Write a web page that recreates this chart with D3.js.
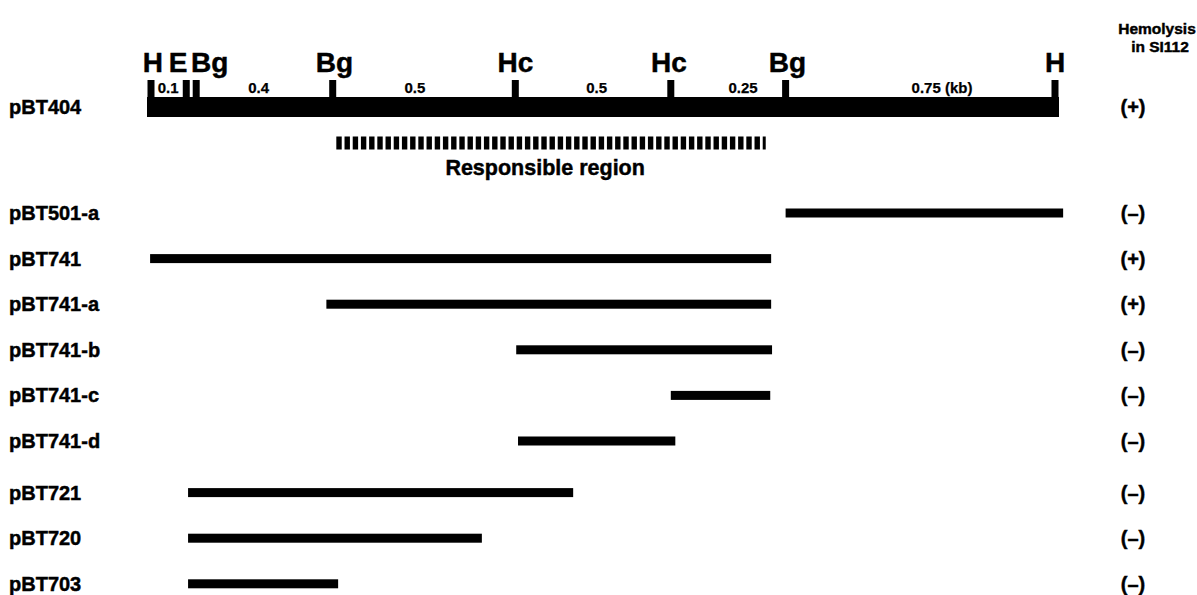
<!DOCTYPE html>
<html><head><meta charset="utf-8">
<script src="https://cdn.jsdelivr.net/npm/d3@7"></script>
<style>
html,body{margin:0;padding:0;background:#fff;}
svg text{font-family:"Liberation Sans",Arial,Helvetica,sans-serif;font-weight:bold;fill:#000;stroke:#000;stroke-width:0.45px;}
</style></head>
<body>
<svg id="chart" width="1197" height="595"></svg>
<script>
// Restriction map of pBT404 (positions in map units, 0-100 along the insert)
const siteNames = ["H", "E", "Bg", "Bg", "Hc", "Hc", "Bg", "H"];
const sitePos = [0, 3.9, 5.0, 20.1, 40.3, 57.5, 70.2, 100];
const siteLabelPos = [0.2, 3.0, 6.5, 20.3, 40.3, 57.3, 70.4, 100];
const segmentLabels = ["0.1", "0.4", "0.5", "0.5", "0.25", "0.75 (kb)"];
const segmentLabelPos = [1.9, 11.9, 29.2, 49.3, 65.5, 87.5];
const mapName = "pBT404";
const mapHemolysis = "(+)";
const responsibleStart = 20.5;
const responsibleEnd = 68.0;
const responsibleLabel = "Responsible region";
const responsibleLabelPos = 43.6;

// Subclones
const clones = ["pBT501-a", "pBT741", "pBT741-a", "pBT741-b", "pBT741-c", "pBT741-d", "pBT721", "pBT720", "pBT703"];
const cloneGroup = [0, 0, 0, 0, 0, 0, 1, 1, 1];
const cloneStart = [70.2, -0.1, 19.4, 40.4, 57.5, 40.6, 4.1, 4.1, 4.1];
const cloneEnd = [100.9, 68.6, 68.6, 68.7, 68.5, 58.0, 46.7, 36.6, 20.7];
const cloneHemolysis = ["(\u2013)", "(+)", "(+)", "(\u2013)", "(\u2013)", "(\u2013)", "(\u2013)", "(\u2013)", "(\u2013)"];
const headerLines = ["Hemolysis", "in SI112"];

const svg = d3.select("#chart");
const x = d3.scaleLinear().domain([0, 100]).range([151, 1055]);

// row layout
const rowStep = 45.6, groupGap = 6, firstRowY = 213;
const rowY = i => firstRowY + i * rowStep + cloneGroup[i] * groupGap;

const mapY = 107;       // center of the map bar
const barH = 20;
const tickTop = 80;
const labelX = 9;
const hemoX = 1133;

// main map bar
svg.append("rect")
  .attr("x", x(0) - 4).attr("y", mapY - barH / 2)
  .attr("width", x(100) - x(0) + 8).attr("height", barH)
  .attr("fill", "#000");

// site ticks
svg.selectAll("rect.tick").data(sitePos).join("rect")
  .attr("class", "tick")
  .attr("x", d => x(d) - 3.5).attr("y", tickTop)
  .attr("width", 7).attr("height", mapY - barH / 2 - tickTop + 1)
  .attr("fill", "#000");

// site labels
svg.selectAll("text.site").data(siteNames).join("text")
  .attr("class", "site")
  .attr("x", (d, i) => x(siteLabelPos[i])).attr("y", 72)
  .attr("text-anchor", "middle").attr("font-size", 28)
  .text(d => d);

// segment length labels
svg.selectAll("text.seg").data(segmentLabels).join("text")
  .attr("class", "seg")
  .attr("x", (d, i) => x(segmentLabelPos[i])).attr("y", 93)
  .attr("text-anchor", "middle").attr("font-size", 15)
  .style("stroke-width", "0.25px")
  .text(d => d);

// responsible region (dashed)
svg.append("line")
  .attr("x1", x(responsibleStart)).attr("x2", x(responsibleEnd))
  .attr("y1", 143).attr("y2", 143)
  .attr("stroke", "#000").attr("stroke-width", 13)
  .attr("stroke-dasharray", "5.4,2.8");
svg.append("text")
  .attr("x", x(responsibleLabelPos)).attr("y", 175)
  .attr("text-anchor", "middle").attr("font-size", 21.5)
  .text(responsibleLabel);

// map label and hemolysis
svg.append("text").attr("x", labelX).attr("y", mapY + 7).attr("font-size", 20).text(mapName);
svg.append("text").attr("x", hemoX).attr("y", mapY + 7).attr("text-anchor", "middle").attr("font-size", 20).text(mapHemolysis);

// header
svg.selectAll("text.hdr").data(headerLines).join("text")
  .attr("class", "hdr")
  .attr("x", (d, i) => i === 0 ? 1157 : 1160).attr("y", (d, i) => 34 + i * 18)
  .attr("text-anchor", "middle").attr("font-size", 15.5)
  .text(d => d);

// clone rows
const rows = svg.selectAll("g.row").data(clones).join("g").attr("class", "row");
rows.append("text")
  .attr("x", labelX).attr("y", (d, i) => rowY(i) + 7)
  .attr("font-size", 20).text(d => d);
rows.append("rect")
  .attr("x", (d, i) => x(cloneStart[i])).attr("y", (d, i) => rowY(i) - 4.5)
  .attr("width", (d, i) => x(cloneEnd[i]) - x(cloneStart[i])).attr("height", 9)
  .attr("fill", "#000");
rows.append("text")
  .attr("x", hemoX).attr("y", (d, i) => rowY(i) + 7)
  .attr("text-anchor", "middle").attr("font-size", 20)
  .text((d, i) => cloneHemolysis[i]);
</script>
</body></html>
